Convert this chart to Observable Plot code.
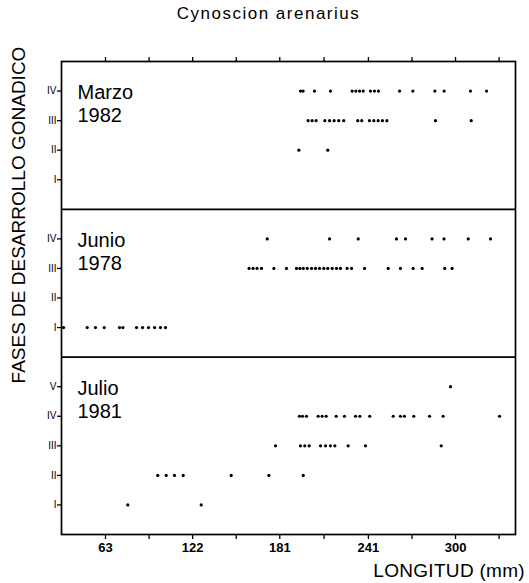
<!DOCTYPE html>
<html>
<head>
<meta charset="utf-8">
<script src="https://cdn.jsdelivr.net/npm/d3@7"></script>
<script src="https://cdn.jsdelivr.net/npm/@observablehq/plot@0.6"></script>
<style>
  html, body { margin: 0; padding: 0; background: #fff; }
  #wrap { position: relative; width: 529px; height: 583px; font-family: "Liberation Sans", Arial, sans-serif; color: #000; }
  #wrap svg { position: absolute; left: 0; top: 0; }
  .lbl { position: absolute; white-space: nowrap; line-height: 1; }
</style>
</head>
<body>
<div id="wrap"></div>
<script>
// ---- data (LONGITUD in mm, per panel and gonadal stage) ----
const stageLabels = ["I", "II", "III", "IV", "V"];
const xTickLabels = [63, 122, 181, 241, 300];
const xMinorTicks = [92.5, 151.5, 211, 270.5, 329.5];

const marzoIV  = [195.0, 196.8, 204.5, 215.3, 230.0, 232.5, 235.0, 237.5, 242.4, 245.1, 247.8, 262.1, 271.1, 286.0, 292.3, 310.1, 321.0];
const marzoIII = [200.2, 202.9, 205.6, 211.5, 214.7, 217.8, 220.9, 224.3, 233.8, 236.5, 241.7, 244.7, 247.6, 250.5, 253.5, 286.4, 310.6];
const marzoII  = [193.9, 213.5];
const marzoI   = [];

const junioIV  = [172.5, 214.7, 234.1, 260.0, 266.1, 284.1, 292.2, 308.6, 323.7];
const junioIII = [160.2, 162.9, 165.6, 168.6, 177.0, 185.5, 192.3, 194.6, 196.9, 199.6, 202.5, 205.2, 207.9, 210.8, 213.5, 216.5, 219.4, 222.1, 226.6, 229.6, 238.4, 254.4, 262.7, 271.3, 277.4, 292.7, 297.7];
const junioII  = [];
const junioI   = [34.6, 50.6, 56.2, 62.1, 72.5, 74.8, 84.0, 88.1, 92.1, 96.2, 100.2, 103.6];

const julioV   = [296.6];
const julioIV  = [194.3, 196.4, 199.1, 207.0, 209.7, 212.4, 219.2, 224.8, 232.3, 235.2, 241.9, 257.8, 262.7, 265.4, 271.7, 282.4, 291.6, 329.8];
const julioIII = [178.1, 195.0, 197.9, 200.9, 208.6, 212.0, 215.3, 218.3, 227.3, 239.0, 290.3];
const julioII  = [98.4, 104.1, 109.7, 115.6, 148.1, 173.6, 196.9];
const julioI   = [78.1, 127.8];

const panelNames = ["Marzo\n1982", "Junio\n1978", "Julio\n1981"];
const panelStages = [
  [marzoI, marzoII, marzoIII, marzoIV],
  [junioI, junioII, junioIII, junioIV],
  [julioI, julioII, julioIII, julioIV, julioV]
];

// ---- build table: panels stacked bottom-up on one y scale ----
const bandSizes = panelStages.map(s => s.length + 1);
const offsets = [];
{
  let acc = 0;
  for (let i = panelStages.length - 1; i >= 0; i--) { offsets[i] = acc; acc += bandSizes[i]; }
}
const yMax = d3.sum(bandSizes);
const points = [];
const yTicks = [];
const yTickText = new Map();
panelStages.forEach((stages, p) => {
  stages.forEach((arr, s) => {
    const yv = offsets[p] + s + 1;
    yTicks.push(yv);
    yTickText.set(yv, stageLabels[s]);
    arr.forEach(v => points.push({x: v, y: yv}));
  });
});
const panelMeta = panelNames.map((name, p) => ({label: name, top: offsets[p] + bandSizes[p]}));
const dividers = offsets.filter(o => o > 0);
const allXTicks = [...xTickLabels, ...xMinorTicks].sort((a, b) => a - b);

const chart = Plot.plot({
  width: 529,
  height: 583,
  marginLeft: 61,
  marginRight: 14,
  marginTop: 61,
  marginBottom: 49,
  style: {fontFamily: "Liberation Sans, Arial, sans-serif", color: "#000", background: "#fff"},
  x: {domain: [33.2, 340.6], axis: null},
  y: {domain: [0, yMax], axis: null},
  marks: [
    Plot.axisX({anchor: "bottom", ticks: allXTicks, tickSize: 5, tickPadding: 3,
      tickFormat: d => xTickLabels.includes(d) ? String(d) : "",
      fontSize: 13, fontWeight: "bold", label: null, strokeWidth: 1.3, fill: "#000"}),
    Plot.axisX({anchor: "top", ticks: allXTicks, tickSize: 5, tickFormat: () => "", label: null, strokeWidth: 1.3}),
    Plot.axisY({anchor: "left", ticks: yTicks, tickSize: 4, tickPadding: 1,
      tickFormat: d => yTickText.get(d), fontSize: 10, label: null, strokeWidth: 1.3, fill: "#000"}),
    Plot.frame({stroke: "#000", strokeWidth: 1.7}),
    Plot.ruleY(dividers, {stroke: "#000", strokeWidth: 1.7}),
    Plot.dot(points, {x: "x", y: "y", r: 1.6, fill: "#000", stroke: null}),
    Plot.text(panelMeta, {y: "top", text: "label", frameAnchor: "left", textAnchor: "start",
      lineAnchor: "top", dx: 16, dy: 21, fontSize: 20, lineHeight: 1.16, fill: "#000"})
  ]
});

const wrap = document.getElementById("wrap");
wrap.appendChild(chart);

const title = document.createElement("div");
title.className = "lbl";
title.textContent = "Cynoscion arenarius";
Object.assign(title.style, {left: "0px", width: "537px", textAlign: "center", top: "5px", fontSize: "17px", letterSpacing: "1.5px"});
wrap.appendChild(title);

const xl = document.createElement("div");
xl.className = "lbl";
xl.textContent = "LONGITUD (mm)";
Object.assign(xl.style, {right: "4px", top: "561px", fontSize: "19px", letterSpacing: "0.3px"});
wrap.appendChild(xl);

const yl = document.createElement("div");
yl.className = "lbl";
yl.textContent = "FASES DE DESARROLLO GONADICO";
Object.assign(yl.style, {left: "18px", top: "215px", fontSize: "19px", transform: "translate(-50%, -50%) rotate(-90deg)"});
wrap.appendChild(yl);
</script>
</body>
</html>
